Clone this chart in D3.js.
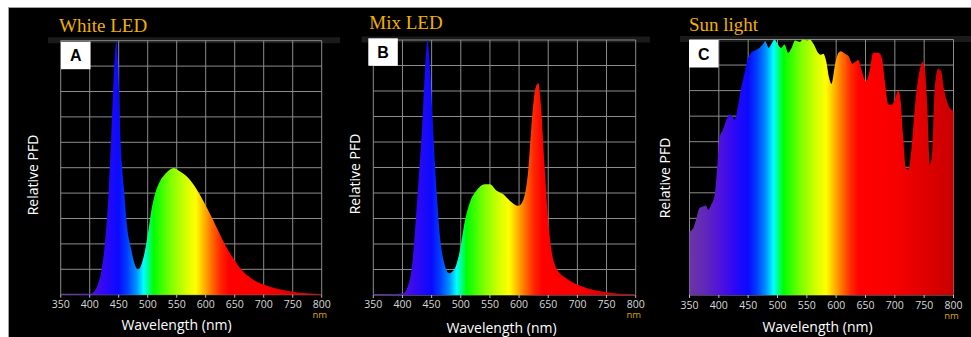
<!DOCTYPE html>
<html>
<head>
<meta charset="utf-8">
<script src="https://cdn.jsdelivr.net/npm/d3@7"></script>
<style>
  html, body { margin: 0; padding: 0; background: #fff; }
  svg { display: block; }
  .tick-label { font-family: "Open Sans", sans-serif; font-size: 10.5px; fill: #d8d8d8; }
  .axis-title { font-family: "Open Sans", sans-serif; font-size: 14px; fill: #fff; }
  .panel-title { font-family: "Liberation Serif", serif; font-size: 19px; fill: #f0b000; }
  .unit { font-family: "Open Sans", sans-serif; font-size: 9.5px; fill: #d9a800; }
  .letter { font-family: "Liberation Sans", Arial, sans-serif; font-size: 16px; font-weight: bold; fill: #000; }
</style>
</head>
<body>
<svg id="chart" width="971" height="337"></svg>
<script>
// ---- data ----
const xTicks = [350, 400, 450, 500, 550, 600, 650, 700, 750, 800];
const yGrid = [0, 0.1, 0.2, 0.3, 0.4, 0.5, 0.6, 0.7, 0.8, 0.9, 1];

const titles = ["White LED", "Mix LED", "Sun light"];
const letters = ["A", "B", "C"];

const whiteNm  = [350, 375, 400, 408, 414, 420, 426, 432, 437, 442, 446, 449, 453, 459, 464, 471, 478, 483, 489, 495, 501, 506, 513, 521, 529, 538, 545, 555, 567, 577, 591, 605, 620, 635, 650, 665, 680, 700, 725, 750, 775, 800];
const whitePfd = [0.004, 0.004, 0.004, 0.013, 0.04, 0.092, 0.197, 0.38, 0.617, 0.88, 1.0, 0.905, 0.617, 0.42, 0.276, 0.184, 0.118, 0.098, 0.118, 0.17, 0.25, 0.328, 0.40, 0.446, 0.472, 0.492, 0.499, 0.486, 0.466, 0.44, 0.39, 0.33, 0.26, 0.19, 0.135, 0.09, 0.062, 0.04, 0.022, 0.012, 0.006, 0.003];

const mixNm  = [350, 375, 401, 410, 416, 421, 427, 433, 439, 443, 447, 453, 459, 464, 471, 480, 490, 499, 507, 516, 527, 541, 550, 561, 573, 584, 599, 607, 616, 621, 628, 633, 637, 644, 650, 656, 664, 681, 699, 721, 744, 773, 800];
const mixPfd = [0.004, 0.004, 0.006, 0.04, 0.105, 0.235, 0.43, 0.63, 0.89, 1.0, 0.9, 0.63, 0.39, 0.235, 0.13, 0.085, 0.105, 0.18, 0.29, 0.366, 0.41, 0.434, 0.434, 0.41, 0.395, 0.37, 0.35, 0.372, 0.497, 0.654, 0.81, 0.83, 0.76, 0.497, 0.29, 0.17, 0.105, 0.065, 0.042, 0.024, 0.013, 0.005, 0.003];

const sunNm  = [350, 356, 361, 367, 373, 378, 382, 387, 393, 398, 401, 407, 413, 418, 423, 427, 432, 438, 444, 449, 455, 464, 469, 475, 479, 485, 489, 495, 499, 506, 512, 518, 524, 530, 538, 543, 551, 555, 562, 569, 574, 578, 583, 588, 592, 598, 604, 608, 615, 621, 628, 632, 638, 643, 651, 657, 663, 672, 678, 683, 689, 695, 700, 706, 710, 714, 719, 723, 729, 734, 742, 747, 751, 755, 760, 764, 768, 774, 779, 784, 791, 800];
const sunPfd = [0.248, 0.26, 0.294, 0.34, 0.346, 0.35, 0.333, 0.353, 0.392, 0.523, 0.614, 0.647, 0.686, 0.706, 0.70, 0.686, 0.73, 0.81, 0.87, 0.92, 0.948, 0.96, 0.967, 0.98, 0.993, 0.967, 0.98, 1.0, 0.987, 0.967, 0.98, 0.948, 0.967, 0.996, 0.99, 1.0, 0.996, 1.0, 0.98, 0.948, 0.94, 0.944, 0.915, 0.85, 0.826, 0.90, 0.948, 0.954, 0.944, 0.935, 0.905, 0.912, 0.92, 0.882, 0.837, 0.876, 0.948, 0.948, 0.928, 0.837, 0.745, 0.745, 0.765, 0.80, 0.758, 0.627, 0.497, 0.49, 0.588, 0.732, 0.876, 0.912, 0.889, 0.758, 0.51, 0.575, 0.81, 0.886, 0.876, 0.804, 0.745, 0.72];

// spectral colour stops (wavelength -> colour)
const spectrumNm  = [350, 375, 400, 425, 450, 465, 480, 493, 502, 510, 540, 570, 583, 595, 610, 625, 640, 700, 750, 800];
const spectrumHex = ["#6a35a5", "#6228b8", "#5214d8", "#3008f5", "#0a0aff", "#0040ff", "#0090ff", "#00ffff", "#00ff80", "#00ff00", "#7fff00", "#e0ff00", "#ffff00", "#ffc000", "#ff7000", "#ff2800", "#ff0000", "#f80000", "#e00000", "#c80000"];

// ---- layout ----
const panels = [
  { nm: whiteNm, pfd: whitePfd, x0: 60.7, x1: 321.7, y0: 40.7, y1: 294.7,
    title: [59, 31.7], box: [61, 41.7], yLab: [33, 175], xLab: [176.5, 330], band: [48, 340], tickY: 307.5, unitY: 318 },
  { nm: mixNm, pfd: mixPfd, x0: 373.3, x1: 635.7, y0: 40, y1: 295,
    title: [369.3, 29], box: [368.3, 38.3], yLab: [354.5, 174], xLab: [501.5, 333], band: [361.7, 650], tickY: 307.5, unitY: 318 },
  { nm: sunNm, pfd: sunPfd, x0: 689.5, x1: 953.5, y0: 39.5, y1: 295,
    title: [689, 30.7], box: [689, 40], yLab: [664.5, 178], xLab: [817.5, 331.5], band: [680, 971], tickY: 309, unitY: 319 }
];

const svg = d3.select("#chart");
const defs = svg.append("defs");

svg.append("rect").attr("x", 8.5).attr("y", 7.5).attr("width", 971).attr("height", 340)
  .attr("fill", "#000").attr("stroke", "#a0a0a0");

panels.forEach((p, i) => {
  const x = d3.scaleLinear().domain([350, 800]).range([p.x0, p.x1]);
  const y = d3.scaleLinear().domain([0, 1]).range([p.y1, p.y0]);
  const g = svg.append("g");

  // faint header band behind the top of the plot
  g.append("rect").attr("x", p.band[0]).attr("y", p.y0 - 3.5)
    .attr("width", p.band[1] - p.band[0]).attr("height", 6).attr("fill", "#1b1b1b");

  // grid
  g.append("g").selectAll("line").data(xTicks).join("line")
    .attr("x1", (d) => x(d)).attr("x2", (d) => x(d))
    .attr("y1", p.y0).attr("y2", p.y1)
    .attr("stroke", "#8c8c8c").attr("stroke-width", 1);
  g.append("g").selectAll("line").data(yGrid).join("line")
    .attr("x1", p.x0).attr("x2", p.x1)
    .attr("y1", (d) => y(d)).attr("y2", (d) => y(d))
    .attr("stroke", "#8c8c8c").attr("stroke-width", 1);

  // spectral gradient
  const grad = defs.append("linearGradient").attr("id", "spec" + i)
    .attr("gradientUnits", "userSpaceOnUse")
    .attr("x1", x(350)).attr("x2", x(800)).attr("y1", 0).attr("y2", 0);
  grad.selectAll("stop").data(spectrumNm).join("stop")
    .attr("offset", (d) => (d - 350) / 450)
    .attr("stop-color", (d, j) => spectrumHex[j]);

  const area = d3.area()
    .x((d) => x(d[0]))
    .y0(y(0))
    .y1((d) => y(d[1]))
    .curve(d3.curveMonotoneX);
  g.append("path")
    .datum(p.nm.map((n, j) => [n, p.pfd[j]]))
    .attr("d", area)
    .attr("fill", `url(#spec${i})`);

  // x ticks
  g.append("g").selectAll("line").data(xTicks).join("line")
    .attr("x1", (d) => x(d)).attr("x2", (d) => x(d))
    .attr("y1", p.y1).attr("y2", p.y1 + 3)
    .attr("stroke", "#bbb");
  g.append("g").selectAll("text").data(xTicks).join("text")
    .attr("class", "tick-label")
    .attr("x", (d) => x(d)).attr("y", p.tickY)
    .attr("text-anchor", "middle")
    .text((d) => d);
  g.append("text").attr("class", "unit")
    .attr("x", x(800) - 2).attr("y", p.unitY).attr("text-anchor", "middle").text("nm");

  // titles and labels
  g.append("text").attr("class", "panel-title")
    .attr("x", p.title[0]).attr("y", p.title[1]).text(titles[i]);
  g.append("rect").attr("x", p.box[0]).attr("y", p.box[1])
    .attr("width", 29.5).attr("height", 27.5).attr("fill", "#fff");
  g.append("text").attr("class", "letter")
    .attr("x", p.box[0] + 14.75).attr("y", p.box[1] + 19.5)
    .attr("text-anchor", "middle").text(letters[i]);

  g.append("text").attr("class", "axis-title")
    .attr("transform", `translate(${p.yLab[0] + 5},${p.yLab[1]}) rotate(-90)`)
    .attr("text-anchor", "middle").text("Relative PFD");
  g.append("text").attr("class", "axis-title")
    .attr("x", p.xLab[0]).attr("y", p.xLab[1])
    .attr("text-anchor", "middle").text("Wavelength (nm)");
});
</script>
</body>
</html>
